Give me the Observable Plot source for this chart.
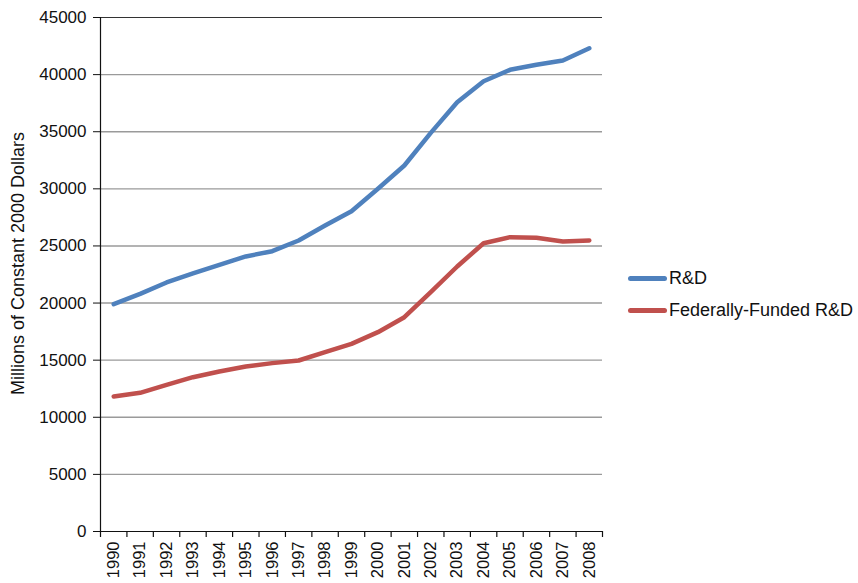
<!DOCTYPE html>
<html>
<head>
<meta charset="utf-8">
<script src="https://cdn.jsdelivr.net/npm/d3@7"></script>
<script src="https://cdn.jsdelivr.net/npm/@observablehq/plot@0.6"></script>
<style>
  body { margin: 0; background: #fff; }
  #wrap { position: relative; width: 858px; height: 583px; overflow: hidden; }
  .legend { position: absolute; left: 628px; height: 20px; line-height: 20px; font-family: "Liberation Sans", Arial, sans-serif; font-size: 18px; color: #111; display: flex; align-items: center; }
  .legend .sw { width: 39px; height: 5px; border-radius: 3px; margin-right: 2px; }
</style>
</head>
<body>
<div id="wrap"></div>
<script>
const years = [1990, 1991, 1992, 1993, 1994, 1995, 1996, 1997, 1998, 1999, 2000, 2001, 2002, 2003, 2004, 2005, 2006, 2007, 2008];
const rd = [19900, 20800, 21800, 22600, 23350, 24080, 24540, 25480, 26790, 28040, 30000, 32040, 34900, 37580, 39420, 40420, 40860, 41230, 42310];
const fed = [11820, 12140, 12840, 13510, 14010, 14450, 14740, 14970, 15700, 16430, 17450, 18760, 20950, 23200, 25240, 25770, 25710, 25390, 25480];
const seriesNames = ["R&D", "Federally-Funded R&D"];
const seriesColors = ["#4F81BD", "#C0504D"];
const yTicks = [0, 5000, 10000, 15000, 20000, 25000, 30000, 35000, 40000, 45000];
const yLabel = "Millions of Constant 2000 Dollars";

const data = [];
years.forEach((y, i) => {
  data.push({year: y, value: rd[i], series: seriesNames[0]});
  data.push({year: y, value: fed[i], series: seriesNames[1]});
});
const boundaries = years.map(y => y - 0.5).concat([years[years.length - 1] + 0.5]);
const font = "Liberation Sans, Arial, sans-serif";

const chart = Plot.plot({
  width: 858,
  height: 583,
  marginLeft: 100,
  marginRight: 256,
  marginTop: 17,
  marginBottom: 52,
  style: {fontFamily: font, background: "#fff", color: "#111"},
  x: {type: "linear", domain: [years[0] - 0.5, years[years.length - 1] + 0.5], axis: null},
  y: {domain: [0, 45000], axis: null},
  color: {domain: seriesNames, range: seriesColors},
  marks: [
    Plot.ruleY(yTicks.filter(d => d > 0 && d < 45000), {stroke: "#9a9a9a", strokeWidth: 1.4}),
    Plot.ruleY([45000], {stroke: "#333", strokeWidth: 1.2}),
    Plot.axisY({ticks: yTicks, tickSize: 7, tickPadding: 7, fontSize: 17, tickFormat: d => String(d), label: null, stroke: "#111"}),
    Plot.text([yLabel], {frameAnchor: "left", textAnchor: "middle", dx: -82, dy: -11, rotate: -90, fontSize: 18, fill: "#111"}),
    Plot.ruleX([years[0] - 0.5], {stroke: "#111", strokeWidth: 1.2}),
    Plot.ruleY([0], {stroke: "#111", strokeWidth: 1.2, insetLeft: -7}),
    Plot.ruleX(boundaries, {stroke: "#111", strokeWidth: 1.2, insetTop: 514, insetBottom: -6}),
    Plot.axisX({ticks: years, tickSize: 0, tickPadding: 10, tickRotate: -90, fontSize: 16.5, tickFormat: d => String(d), label: null}),
    Plot.line(data, {x: "year", y: "value", z: "series", stroke: "series", strokeWidth: 4.5, strokeLinecap: "round", strokeLinejoin: "round"})
  ]
});
const wrap = document.getElementById("wrap");
wrap.appendChild(chart);
seriesNames.forEach((name, i) => {
  const row = document.createElement("div");
  row.className = "legend";
  row.style.top = (268 + i * 32) + "px";
  const sw = document.createElement("div");
  sw.className = "sw";
  sw.style.background = seriesColors[i];
  row.appendChild(sw);
  const t = document.createElement("span");
  t.textContent = name;
  row.appendChild(t);
  wrap.appendChild(row);
});
</script>
</body>
</html>
